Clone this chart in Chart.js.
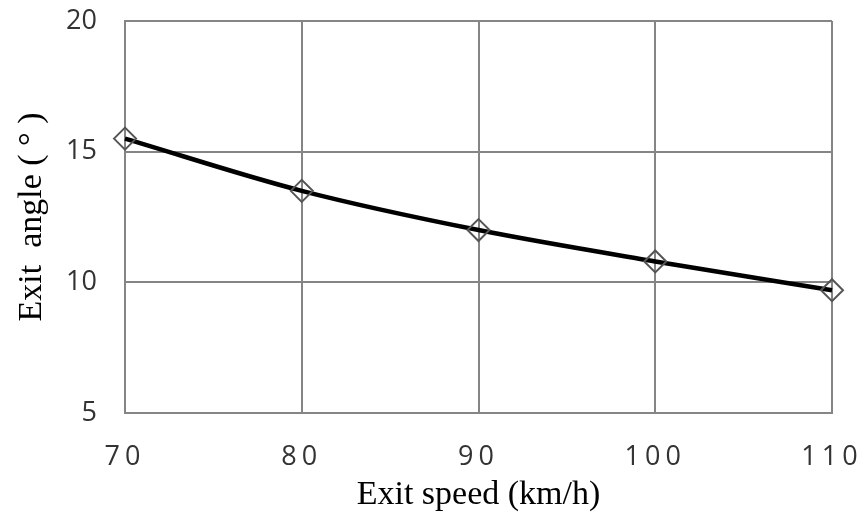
<!DOCTYPE html>
<html>
<head>
<meta charset="utf-8">
<script src="https://cdn.jsdelivr.net/npm/chart.js@4/dist/chart.umd.min.js"></script>
<style>
  html, body { margin: 0; padding: 0; background: #fff; }
  #wrap { width: 865px; height: 527px; }
</style>
</head>
<body>
<div id="wrap"><canvas id="chart" width="865" height="527"></canvas></div>
<script>
// exit speed (km/h) and exit angle (deg)
const speeds = [70, 80, 90, 100, 110]
const angles = [15.5, 13.5, 12.0, 10.8, 9.7]

const xTicks = [70, 80, 90, 100, 110]
const yTicks = [5, 10, 15, 20]

const gridGray = '#858585'

// wide spacing on the x tick digits, like the original
const spacing = {
    id: 'spacing',
    afterDatasetsDraw(chart) { chart.ctx.letterSpacing = '5px' },
    afterDraw(chart) { chart.ctx.letterSpacing = '0px' }
}

const ctx = document.getElementById('chart')

const chart = new Chart(ctx, {
    type: 'line',
    data: {
        datasets: [{
            data: speeds.map((s, i) => ({ x: s, y: angles[i] })),
            borderColor: '#000',
            borderWidth: 4.5,
            tension: 0.4,
            cubicInterpolationMode: 'monotone',
            pointStyle: 'rectRot',
            pointRadius: 11,
            pointBorderWidth: 2,
            pointBorderColor: '#555',
            pointBackgroundColor: 'rgba(0,0,0,0)',
            clip: false,
            fill: false
        }]
    },
    options: {
        responsive: false,
        animation: false,
        layout: { padding: { top: 21, right: 33, left: 0, bottom: 0 } },
        plugins: {
            legend: { display: false },
            tooltip: { enabled: false }
        },
        scales: {
            x: {
                type: 'linear',
                min: 70,
                max: 110,
                afterFit: (s) => {
                    s.height = 114
                    s.paddingLeft = 0
                    s.paddingRight = 0
                },
                afterBuildTicks: (s) => { s.ticks = xTicks.map(v => ({ value: v })) },
                grid: { color: gridGray, lineWidth: 2, drawTicks: false },
                border: { color: gridGray, width: 2 },
                ticks: {
                    z: 1,
                    padding: 28,
                    color: '#333',
                    font: { family: 'Open Sans', size: 27 }
                },
                title: {
                    display: true,
                    text: 'Exit speed (km/h)',
                    color: '#000',
                    font: { family: 'Liberation Serif', size: 34 },
                    padding: { top: 0, bottom: 12 }
                }
            },
            y: {
                min: 5,
                max: 20,
                afterFit: (s) => {
                    s.width = 125
                    s.paddingTop = 0
                    s.paddingBottom = 0
                },
                afterBuildTicks: (s) => { s.ticks = yTicks.map(v => ({ value: v })) },
                grid: { color: gridGray, lineWidth: 2, drawTicks: false },
                border: { color: gridGray, width: 2 },
                ticks: {
                    padding: 28,
                    color: '#333',
                    font: { family: 'Open Sans', size: 27 }
                },
                title: {
                    display: true,
                    text: 'Exit  angle ( \u00b0 )',
                    color: '#000',
                    font: { family: 'Liberation Serif', size: 34 },
                    padding: { top: 12, bottom: 0 }
                }
            }
        }
    },
    plugins: [spacing]
})
</script>
</body>
</html>
